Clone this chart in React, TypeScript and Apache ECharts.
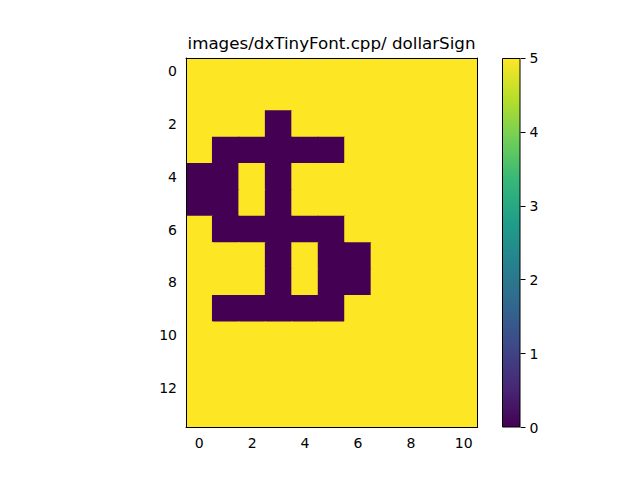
import { useEffect, useRef } from 'react';
import * as echarts from 'echarts';

const titleText = 'images/dxTinyFont.cpp/ dollarSign';

const xCategories = ['0', '1', '2', '3', '4', '5', '6', '7', '8', '9', '10'];
const yCategories = ['0', '1', '2', '3', '4', '5', '6', '7', '8', '9', '10', '11', '12', '13'];

// one row per image line, 0 = ink, 5 = background
const pixelRows: number[][] = [
  [5, 5, 5, 5, 5, 5, 5, 5, 5, 5, 5],
  [5, 5, 5, 5, 5, 5, 5, 5, 5, 5, 5],
  [5, 5, 5, 0, 5, 5, 5, 5, 5, 5, 5],
  [5, 0, 0, 0, 0, 0, 5, 5, 5, 5, 5],
  [0, 0, 5, 0, 5, 5, 5, 5, 5, 5, 5],
  [0, 0, 5, 0, 5, 5, 5, 5, 5, 5, 5],
  [5, 0, 0, 0, 0, 0, 5, 5, 5, 5, 5],
  [5, 5, 5, 0, 5, 0, 0, 5, 5, 5, 5],
  [5, 5, 5, 0, 5, 0, 0, 5, 5, 5, 5],
  [5, 0, 0, 0, 0, 0, 5, 5, 5, 5, 5],
  [5, 5, 5, 5, 5, 5, 5, 5, 5, 5, 5],
  [5, 5, 5, 5, 5, 5, 5, 5, 5, 5, 5],
  [5, 5, 5, 5, 5, 5, 5, 5, 5, 5, 5],
  [5, 5, 5, 5, 5, 5, 5, 5, 5, 5, 5],
];

const colorMin = 0;
const colorMax = 5;

const viridis = [
  '#440154', '#482878', '#3e4989', '#31688e', '#26828e',
  '#1f9e89', '#35b779', '#6ece58', '#b5de2b', '#fde725',
];

const font = 'DejaVu Sans';
const evenOnly = (index: number) => index % 2 === 0;

export default function App() {
  const chartRef = useRef<HTMLDivElement>(null);

  useEffect(() => {
    if (!chartRef.current) return;
    document.body.style.margin = '0';

    const chart = echarts.init(chartRef.current, undefined, { renderer: 'svg' });

    const cells: number[][] = [];
    pixelRows.forEach((row, y) => {
      row.forEach((v, x) => cells.push([x, y, v]));
    });

    const labelStyle = { color: '#000', fontSize: 14, fontFamily: font };
    const blackLine = { lineStyle: { color: '#000', width: 1 } };

    const option: echarts.EChartsOption = {
      animation: false,
      backgroundColor: '#fff',
      graphic: [
        {
          type: 'text',
          x: 331.5,
          y: 34,
          z: 20,
          style: {
            text: titleText,
            align: 'center',
            verticalAlign: 'top',
            fill: '#000',
            fontSize: 16.7,
            fontFamily: font,
          },
        },
      ],
      grid: [
        { left: 186, top: 58, width: 291, height: 369.5 },
        { left: 502, top: 58, width: 18.5, height: 369.5 },
      ],
      xAxis: [
        {
          gridIndex: 0,
          type: 'category',
          data: xCategories,
          position: 'bottom',
          z: 10,
          axisLine: blackLine,
          axisTick: { interval: evenOnly, alignWithLabel: true, length: 5, lineStyle: { color: '#000' } },
          axisLabel: { ...labelStyle, interval: evenOnly, margin: 8 },
          splitLine: { show: false },
        },
        {
          gridIndex: 0,
          type: 'category',
          data: xCategories,
          position: 'top',
          z: 10,
          axisLine: blackLine,
          axisTick: { show: false },
          axisLabel: { show: false },
        },
        {
          gridIndex: 1,
          type: 'category',
          data: ['bar'],
          show: false,
        },
      ],
      yAxis: [
        {
          gridIndex: 0,
          type: 'category',
          data: yCategories,
          inverse: true,
          position: 'left',
          z: 10,
          axisLine: blackLine,
          axisTick: { interval: evenOnly, alignWithLabel: true, length: 5, lineStyle: { color: '#000' } },
          axisLabel: { ...labelStyle, interval: evenOnly, margin: 9 },
          splitLine: { show: false },
        },
        {
          gridIndex: 0,
          type: 'category',
          data: yCategories,
          inverse: true,
          position: 'right',
          z: 10,
          axisLine: blackLine,
          axisTick: { show: false },
          axisLabel: { show: false },
        },
        {
          gridIndex: 1,
          type: 'value',
          min: colorMin,
          max: colorMax,
          interval: 1,
          position: 'right',
          axisLine: { show: false },
          axisTick: { show: true, length: 5, lineStyle: { color: '#000' } },
          axisLabel: { ...labelStyle, margin: 9 },
          splitLine: { show: false },
        },
      ],
      visualMap: {
        show: false,
        type: 'continuous',
        seriesIndex: 0,
        dimension: 2,
        min: colorMin,
        max: colorMax,
        inRange: { color: viridis },
      },
      series: [
        {
          type: 'custom',
          xAxisIndex: 0,
          yAxisIndex: 0,
          data: cells,
          silent: true,
          renderItem: (params: any, api: any) => {
            const center = api.coord([api.value(0), api.value(1)]);
            const size = api.size([1, 1]);
            // overlap neighbours slightly so no seams show
            return {
              type: 'rect',
              shape: {
                x: center[0] - size[0] / 2 - 0.5,
                y: center[1] - size[1] / 2 - 0.5,
                width: size[0] + 1,
                height: size[1] + 1,
              },
              style: { fill: api.visual('color') },
            };
          },
          clip: true,
        },
        {
          type: 'bar',
          xAxisIndex: 2,
          yAxisIndex: 2,
          data: [colorMax],
          barWidth: '100%',
          silent: true,
          itemStyle: {
            borderColor: '#000',
            borderWidth: 1,
            color: new echarts.graphic.LinearGradient(
              0, 1, 0, 0,
              viridis.map((c, i) => ({ offset: i / (viridis.length - 1), color: c }))
            ),
          },
        },
      ],
    };

    chart.setOption(option);

    return () => {
      chart.dispose();
    };
  }, []);

  return <div ref={chartRef} style={{ width: '640px', height: '480px' }} />;
}
